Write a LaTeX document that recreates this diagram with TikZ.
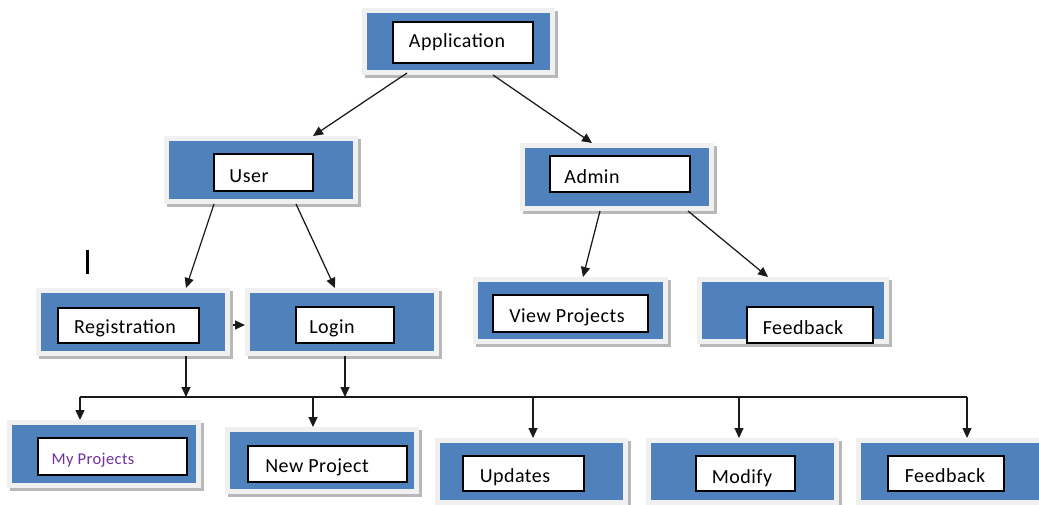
\documentclass[tikz,border=0pt]{standalone}
\usepackage{fontspec}
\setmainfont{Carlito}[LetterSpace=2.5]
\usetikzlibrary{arrows.meta,calc}
\definecolor{boxblue}{HTML}{4F81BD}
\definecolor{framegray}{HTML}{F0F0F0}
\definecolor{shadowgray}{HTML}{B8B8B8}
\definecolor{linecol}{HTML}{1A1A1A}
\definecolor{purp}{HTML}{7030A0}
\begin{document}
\begin{tikzpicture}[x=1pt,y=-1pt,
  frame/.style={fill=framegray, inner sep=0, outer sep=0,
    preaction={fill=shadowgray, transform canvas={xshift=2.5pt,yshift=-3pt}}},
  bluefill/.style={fill=boxblue, inner sep=0, outer sep=0},
  whitebox/.style={fill=white, draw=black, line width=1.2pt, inner sep=0},
  txt/.style={font=\fontsize{20}{24}\selectfont, text=black, inner sep=0, anchor=base},
  smalltxt/.style={font=\fontsize{16.5}{20}\selectfont, text=purp, inner sep=0, anchor=base},
  arr/.style={draw=linecol, line width=1.25pt, -{Triangle[length=10pt,width=9pt]}},
  busline/.style={draw=linecol, line width=1.25pt},
]
\useasboundingbox[fill=white] (0,0) rectangle (1039,504);

% Application
\node[frame, minimum width=193pt, minimum height=67pt] (app) at (458.5,41.5) {};
\node[bluefill, minimum width=183pt, minimum height=57pt] (appb) at (app) {};
\node[whitebox, minimum width=140pt, minimum height=41pt] (appw) at (463,42.5) {};
\node[txt] (appt) at (457,47) {Application};

% User
\node[frame, minimum width=194pt, minimum height=68pt] (user) at (261,170) {};
\node[bluefill, minimum width=184pt, minimum height=58pt] (userb) at (user) {};
\node[whitebox, minimum width=99pt, minimum height=37pt] (userw) at (263.5,172.5) {};
\node[txt] (usert) at (249,182) {User};

% Admin
\node[frame, minimum width=194pt, minimum height=68pt] (admin) at (617,177) {};
\node[bluefill, minimum width=184pt, minimum height=58pt] (adminb) at (admin) {};
\node[whitebox, minimum width=140pt, minimum height=36pt] (adminw) at (620,174) {};
\node[txt] (admint) at (592,183) {Admin};

% Registration
\node[frame, minimum width=194pt, minimum height=68pt] (reg) at (133,322) {};
\node[bluefill, minimum width=184pt, minimum height=58pt] (regb) at (reg) {};
\node[whitebox, minimum width=141pt, minimum height=35pt] (regw) at (128.5,325.5) {};
\node[txt] (regt) at (125,333) {Registration};

% Login
\node[frame, minimum width=194pt, minimum height=68pt] (login) at (342,322) {};
\node[bluefill, minimum width=184pt, minimum height=58pt] (loginb) at (login) {};
\node[whitebox, minimum width=98pt, minimum height=36pt] (loginw) at (345,325) {};
\node[txt] (logint) at (332,333) {Login};

% View Projects
\node[frame, minimum width=195pt, minimum height=67pt] (view) at (570.5,310.5) {};
\node[bluefill, minimum width=185pt, minimum height=57pt] (viewb) at (view) {};
\node[whitebox, minimum width=155pt, minimum height=37pt] (vieww) at (570.5,313.5) {};
\node[txt] (viewt) at (567,322) {View Projects};

% Feedback (admin)
\node[frame, minimum width=192pt, minimum height=67pt] (fba) at (793,310.5) {};
\node[bluefill, minimum width=182pt, minimum height=57pt] (fbab) at (fba) {};
\node[whitebox, minimum width=126pt, minimum height=36pt] (fbaw) at (810,325) {};
\node[txt] (fbat) at (803,334) {Feedback};

% My Projects
\node[frame, minimum width=194pt, minimum height=68pt] (myp) at (104,454) {};
\node[bluefill, minimum width=184pt, minimum height=58pt] (mypb) at (myp) {};
\node[whitebox, minimum width=149pt, minimum height=37pt] (mypw) at (112.5,456.5) {};
\node[smalltxt] (mypt) at (93,464) {My Projects};

% New Project
\node[frame, minimum width=194pt, minimum height=67pt] (newp) at (322,460.5) {};
\node[bluefill, minimum width=184pt, minimum height=57pt] (newpb) at (newp) {};
\node[whitebox, minimum width=159pt, minimum height=36pt] (newpw) at (327.5,464) {};
\node[txt] (newpt) at (317,472) {New Project};

% Updates
\node[frame, minimum width=193pt, minimum height=67pt] (upd) at (531.5,471.5) {};
\node[bluefill, minimum width=183pt, minimum height=57pt] (updb) at (upd) {};
\node[whitebox, minimum width=121pt, minimum height=35pt] (updw) at (523.5,473.5) {};
\node[txt] (updt) at (515,482) {Updates};

% Modify
\node[frame, minimum width=193pt, minimum height=67pt] (mod) at (742.5,471.5) {};
\node[bluefill, minimum width=183pt, minimum height=57pt] (modb) at (mod) {};
\node[whitebox, minimum width=99pt, minimum height=35pt] (modw) at (745.5,473.5) {};
\node[txt] (modt) at (742,483) {Modify};

% Feedback (bottom)
\node[frame, minimum width=193pt, minimum height=67pt] (fbb) at (952.5,471.5) {};
\node[bluefill, minimum width=183pt, minimum height=57pt] (fbbb) at (fbb) {};
\node[whitebox, minimum width=116pt, minimum height=35pt] (fbbw) at (946,473.5) {};
\node[txt] (fbbt) at (945,482) {Feedback};

% stray cursor bar
\node[fill=black, minimum width=3pt, minimum height=24pt, inner sep=0] (cursor) at (87.5,262) {};

% connectors
\draw[arr] ($(app.south)+(-51.5,-2)$) -- ($(user.north)+(52,0)$);
\draw[arr] ($(app.south)+(34.5,0)$) -- ($(admin.north)+(-25,0)$);
\draw[arr] ($(user.south)+(-47,0)$) -- ($(reg.north)+(53,0)$);
\draw[arr] ($(user.south)+(35,0)$) -- ($(login.north)+(-7,0)$);
\draw[arr] ($(admin.south)+(-17,0)$) -- ($(view.north)+(12.5,0)$);
\draw[arr] ($(admin.south)+(71,0)$) -- ($(fba.north)+(-25,0)$);
\draw[arr] ($(reg.east)+(3,3)$) -- ($(login.west)+(0,3)$);

\coordinate (busL) at (80,397);
\coordinate (busR) at (967,397);
\coordinate (rd) at ($(reg.south)+(53,0)$);
\coordinate (ld) at ($(login.south)+(3,0)$);
\draw[arr] (rd) -- (rd |- busL);
\draw[arr] (ld) -- (ld |- busL);
\draw[busline] (busL) -- (busR);
\draw[arr] (busL) -- (busL |- myp.north);
\draw[arr] ($(busL)+(233,0)$) -- ($(newp.north)+(-9,0)$);
\draw[arr] ($(busL)+(453,0)$) -- ($(upd.north)+(1.5,0)$);
\draw[arr] ($(busL)+(659,0)$) -- ($(mod.north)+(-3.5,0)$);
\draw[arr] (busR) -- (busR |- fbb.north);
\end{tikzpicture}
\end{document}
